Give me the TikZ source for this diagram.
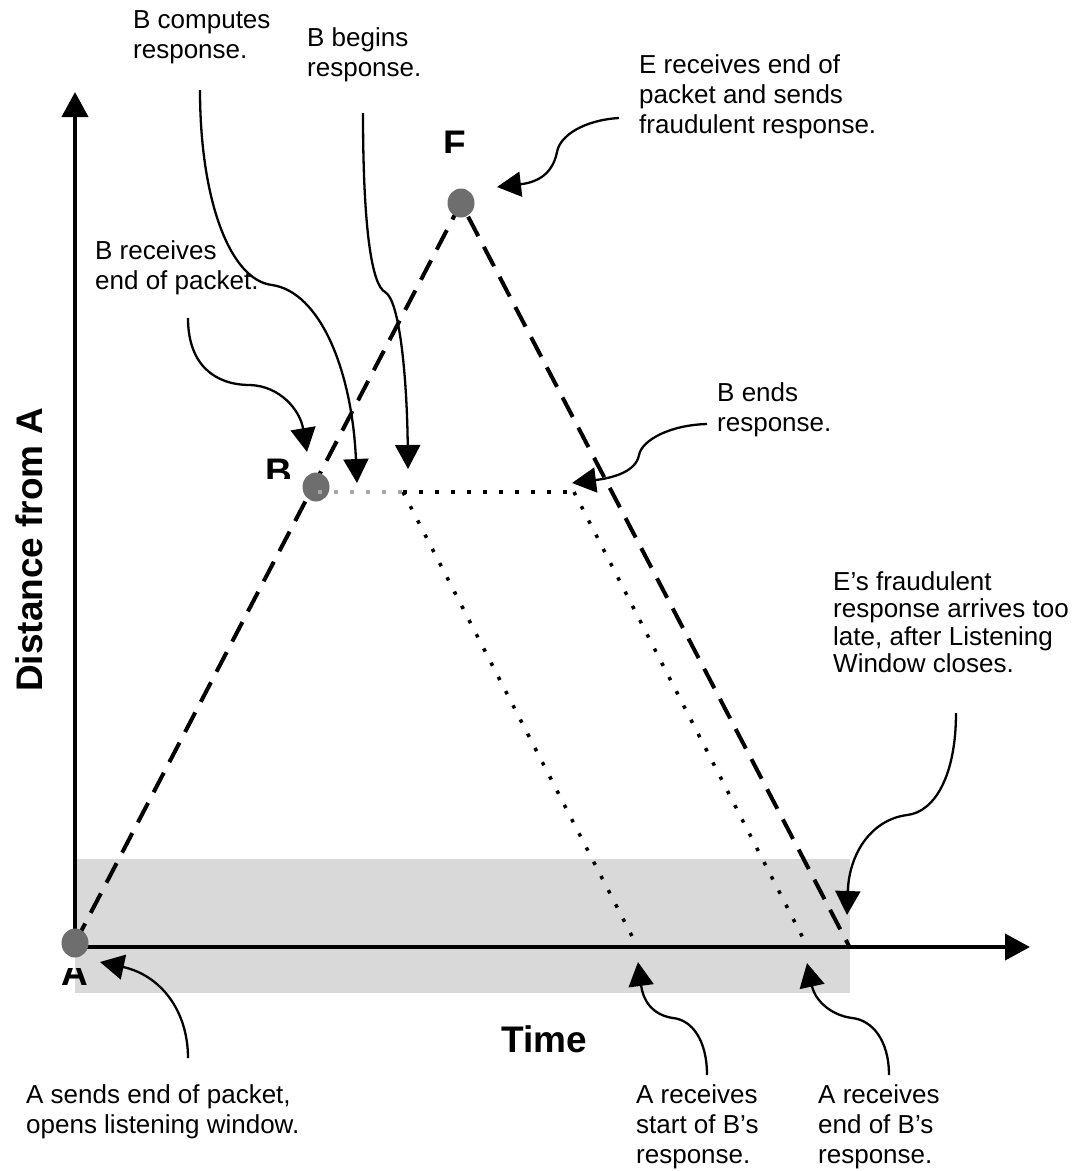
\documentclass[tikz,border=0pt]{standalone}
\usepackage{fontspec}
\setmainfont{Liberation Sans}
\usetikzlibrary{arrows.meta,shapes.geometric}
\definecolor{windowgray}{HTML}{D9D9D9}
\definecolor{dotgray}{HTML}{6E6E6E}
\definecolor{lightdots}{HTML}{A6A6A6}
\newcommand\annlines[1]{\begin{tabular}[t]{@{}l@{}}#1\end{tabular}}
\begin{document}
\begin{tikzpicture}[x=1pt,y=-1pt,
  ann/.style={anchor=base west, inner sep=0pt, font=\fontsize{26}{30}\selectfont},
  lbl/.style={font=\fontsize{37}{40}\selectfont\bfseries, inner sep=0pt, anchor=base},
  pnt/.style={ellipse, fill=dotgray, minimum width=27pt, minimum height=29pt, inner sep=0pt},
  axisline/.style={line width=4pt, -{Triangle[length=25pt,width=26pt]}},
  sig/.style={line width=4pt, dash pattern=on 22pt off 12pt},
  resp/.style={line width=3.5pt, dash pattern=on 3.5pt off 12.5pt},
  callout/.style={line width=2.3pt, -{Triangle[length=24pt,width=25pt]}}]
\useasboundingbox (0,0) rectangle (1083,1171);
% listening window
\fill[windowgray] (75,859) rectangle (850,993);
% coordinates
\coordinate (a) at (75,943);
\coordinate (b) at (316,487);
\coordinate (f) at (461,203);
\coordinate (o) at (75,947);
\coordinate (ytip) at (75,92);
\coordinate (xtip) at (1030,947);
\coordinate (eF) at (849,946);
\coordinate (bs) at (403,492);
\coordinate (be) at (574,492);
\coordinate (bb) at (318,492);
\coordinate (r1) at (634,940);
\coordinate (r2) at (804,940);
% axes
\draw[axisline] (o) -- (ytip);
\draw[axisline] (o) -- (xtip);
% signals
\draw[sig] (a) -- (f) -- (eF);
\draw[resp] (bs) -- (be);
\draw[resp] (bs) -- (r1);
\draw[resp] (be) -- (r2);
% points
\node[pnt] (pA) at (a) {};
\node[pnt] (pB) at (b) {};
\node[pnt] (pF) at (f) {};
\draw[resp, lightdots] (bb) -- (bs);
% point labels (partly hidden)
\begin{scope}
  \clip (420,100) rectangle (490,152);
  \node[lbl] (labF) at (455,156.5) {F};
\end{scope}
\begin{scope}
  \clip (240,440) rectangle (300,478);
  \node[lbl] (labB) at (278.5,484.5) {B};
\end{scope}
\begin{scope}
  \clip (50,968) rectangle (100,1000);
  \node[lbl] (labA) at (75,985) {A};
\end{scope}
% axis labels
\node[lbl] (time) at (544,1052) {Time};
\node[lbl, rotate=90] (dist) at (42,550) {Distance from A};
% annotation texts
\node[ann] (tComp) at (133,28) {\annlines{B computes\\response.}};
\node[ann] (tBeg) at (307,46) {\annlines{B begins\\response.}};
\node[ann] (tErec) at (639,73) {\annlines{E receives end of\\packet and sends\\fraudulent response.}};
\node[ann] (tBrec) at (95,259) {\annlines{B receives\\end of packet.}};
\node[ann] (tEnd) at (717,401) {\annlines{B ends\\response.}};
\node[ann, font=\fontsize{26}{27.5}\selectfont] (tLate) at (833,590) {\annlines{E’s fraudulent\\response arrives too\\late, after Listening\\Window closes.}};
\node[ann] (tAsend) at (26,1103) {\annlines{A sends end of packet,\\opens listening window.}};
\node[ann] (tAstart) at (636,1103) {\annlines{A receives\\start of B’s\\response.}};
\node[ann] (tAend) at (818,1103) {\annlines{A receives\\end of B’s\\response.}};
% callout anchors
\coordinate (c1s) at (200,90);   \coordinate (c1t) at (357,483);
\coordinate (c2s) at (363,113);  \coordinate (c2t) at (408,469);
\coordinate (c3s) at (188,318);  \coordinate (c3t) at (307,452);
\coordinate (c4s) at (619,118);  \coordinate (c4t) at (497,187);
\coordinate (c5s) at (707,424);  \coordinate (c5t) at (572,483);
\coordinate (c6s) at (956,713);  \coordinate (c6t) at (847,915);
\coordinate (c7s) at (188,1058); \coordinate (c7t) at (100,962);
\coordinate (c8s) at (707,1075); \coordinate (c8t) at (638,962);
\coordinate (c9s) at (889,1075); \coordinate (c9t) at (807,963);
% callouts
\draw[callout] (c1s) .. controls (200,200) and (230,280) .. (272,285) .. controls (320,292) and (352,370) .. (c1t);
\draw[callout] (c2s) .. controls (363,230) and (372,285) .. (385,292) .. controls (400,300) and (407,380) .. (c2t);
\draw[callout] (c3s) .. controls (188,365) and (215,385) .. (250,385) .. controls (280,386) and (300,410) .. (c3t);
\draw[callout] (c4s) .. controls (585,120) and (560,135) .. (557,152) .. controls (553,172) and (540,182) .. (c4t);
\draw[callout] (c5s) .. controls (670,425) and (642,440) .. (639,455) .. controls (636,472) and (612,478) .. (c5t);
\draw[callout] (c6s) .. controls (956,775) and (935,812) .. (907,815) .. controls (870,820) and (849,855) .. (c6t);
\draw[callout] (c7s) .. controls (188,1010) and (160,975) .. (c7t);
\draw[callout] (c8s) .. controls (707,1040) and (692,1020) .. (673,1018) .. controls (652,1015) and (643,1000) .. (c8t);
\draw[callout] (c9s) .. controls (889,1040) and (872,1020) .. (852,1018) .. controls (830,1015) and (815,1000) .. (c9t);
\end{tikzpicture}
\end{document}
